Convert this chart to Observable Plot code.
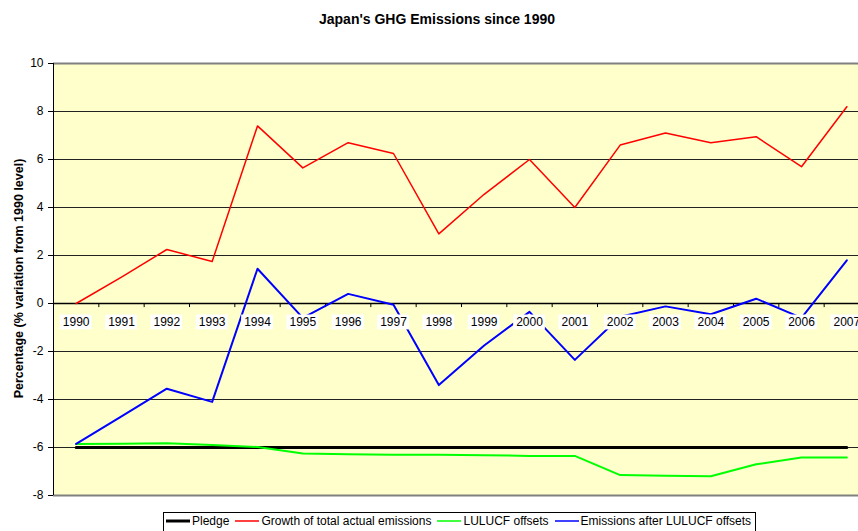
<!DOCTYPE html>
<html><head><meta charset="utf-8">
<script src="https://cdn.jsdelivr.net/npm/d3@7"></script>
<script src="https://cdn.jsdelivr.net/npm/@observablehq/plot@0.6"></script>
<style>
html,body{margin:0;padding:0;overflow:hidden;background:#fff;width:858px;height:531px;position:relative;}
#title{position:absolute;left:0;width:874px;top:11px;line-height:18px;text-align:center;font:bold 14px "Liberation Sans",Arial,sans-serif;color:#000;}
#chart{position:absolute;left:0;top:40px;width:869px;}
#chart svg{max-width:none !important;}
#legend{position:absolute;left:163px;top:512px;height:24px;border:1px solid #000;background:#fff;display:flex;align-items:center;padding:0 4px 0 2px;font:12px "Liberation Sans",Arial,sans-serif;color:#000;white-space:nowrap;box-sizing:border-box;}
#legend .it{display:flex;align-items:center;margin-right:6px;margin-top:-6px;}
#legend .it:last-child{margin-right:0;}
#legend svg{margin-right:2px;}
</style>
</head><body>
<div id="title">Japan's GHG Emissions since 1990</div>
<div id="chart"></div>
<div id="legend"></div>
<script>
const years = [1990,1991,1992,1993,1994,1995,1996,1997,1998,1999,2000,2001,2002,2003,2004,2005,2006,2007];
const growth = [0, 1.1, 2.25, 1.75, 7.4, 5.65, 6.7, 6.25, 2.9, 4.55, 6.0, 4.0, 6.6, 7.1, 6.7, 6.95, 5.7, 8.2];
const lulucf = [-5.85, -5.84, -5.82, -5.9, -5.98, -6.25, -6.28, -6.3, -6.3, -6.32, -6.35, -6.35, -7.15, -7.18, -7.2, -6.7, -6.42, -6.42];
const after = [-5.85, -4.7, -3.55, -4.1, 1.45, -0.6, 0.4, -0.05, -3.4, -1.75, -0.35, -2.35, -0.55, -0.12, -0.45, 0.2, -0.6, 1.8];
const pledge = [-6,-6,-6,-6,-6,-6,-6,-6,-6,-6,-6,-6,-6,-6,-6,-6,-6,-6];
const yTicks = [-8,-6,-4,-2,0,2,4,6,8,10];
const seriesNames = ["Pledge","Growth of total actual emissions","LULUCF offsets","Emissions after LULUCF offsets"];
const seriesColors = ["#000000","#FF0000","#00FF00","#0000FF"];
const yLabel = "Percentage (% variation from 1990 level)";

const rows = years.map((yr,i)=>({year:yr, growth:growth[i], lulucf:lulucf[i], after:after[i], pledge:pledge[i]}));
const bounds = years.slice(0,-1).map(y=>y+0.5);

const chart = Plot.plot({
  width: 869, height: 470,
  marginTop: 23, marginBottom: 15, marginLeft: 53, marginRight: 0,
  style: {fontFamily: '"Liberation Sans", Arial, sans-serif', fontSize: "12px", background: "transparent", overflow: "visible", color: "#000", maxWidth: "none"},
  x: {type: "linear", domain: [1989.5, 2007.5], axis: null},
  y: {domain: [-8, 10], axis: null},
  marks: [
    Plot.frame({fill: "#FFFFCC", stroke: null}),
    Plot.ruleY(yTicks.filter(v => v !== -8 && v !== 10 && v !== 0), {stroke: "#222", strokeWidth: 1}),
    Plot.ruleY([10, -8], {stroke: "#808080", strokeWidth: 2}),
    Plot.axisY({ticks: yTicks, tickSize: 5, tickPadding: 5, label: null, tickFormat: d => String(d), fontSize: 12}),
    Plot.ruleX([1989.5], {stroke: "#000", strokeWidth: 1}),
    Plot.ruleY([0], {stroke: "#000", strokeWidth: 1.5}),
    Plot.ruleX(bounds, {y1: 0, y2: -0.17, stroke: "#000"}),
    Plot.line(rows, {x: "year", y: "pledge", stroke: seriesColors[0], strokeWidth: 3}),
    Plot.line(rows, {x: "year", y: "growth", stroke: seriesColors[1], strokeWidth: 1.5}),
    Plot.line(rows, {x: "year", y: "lulucf", stroke: seriesColors[2], strokeWidth: 2}),
    Plot.line(rows, {x: "year", y: "after", stroke: seriesColors[3], strokeWidth: 2}),
    Plot.rect(rows, {x1: d => d.year - 0.35, x2: d => d.year + 0.35, y1: -0.48, y2: -1.1, fill: "white"}),
    Plot.text(rows, {x: "year", y: 0, dy: 19, text: d => String(d.year), fontSize: 12, fill: "#000"}),
    Plot.text([yLabel], {frameAnchor: "left", textAnchor: "middle", dx: -35, dy: -1, rotate: -90, fontWeight: "bold", fontSize: 12.5, fill: "#000", text: d => d})
  ]
});
chart.style.maxWidth = "none";
document.getElementById("chart").appendChild(chart);

const leg = document.getElementById("legend");
seriesNames.forEach((n, i) => {
  const it = document.createElement("span");
  it.className = "it";
  it.innerHTML = `<svg width="24" height="10"><line x1="0" y1="5" x2="24" y2="5" stroke="${seriesColors[i]}" stroke-width="${i === 0 ? 3 : 1.5}"/></svg><span>${n}</span>`;
  leg.appendChild(it);
});
</script>
</body></html>
